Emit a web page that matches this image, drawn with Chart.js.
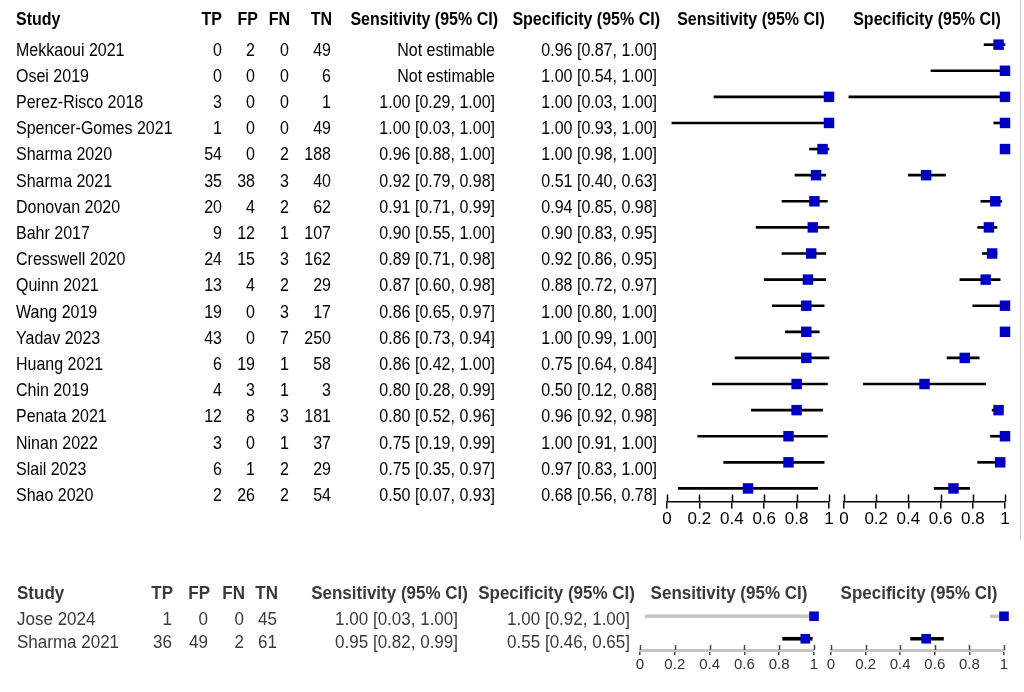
<!DOCTYPE html>
<html>
<head>
<meta charset="utf-8">
<script src="https://cdn.jsdelivr.net/npm/chart.js@4.4.1/dist/chart.umd.min.js"></script>
<style>
  html, body { margin: 0; padding: 0; background: #fff; }
  #page { position: relative; width: 1024px; height: 692px; overflow: hidden;
          font-family: 'Liberation Sans', Arial, sans-serif; }
  canvas { position: absolute; left: 0; top: 0; }
  .cell { position: absolute; white-space: nowrap; }
  .top { font-size: 16px; color: #000; }
  .bot { font-size: 17px; color: #3a3a3a; }
  .hd { font-weight: bold; }
  #edge { position: absolute; left: 1020px; top: 0; width: 1px; height: 540px; background: #c8c8c8; }
</style>
</head>
<body>
<div id="page">
  <div id="edge"></div>
  <canvas id="sensTop" width="1024" height="692"></canvas>
  <canvas id="specTop" width="1024" height="692"></canvas>
  <canvas id="sensBot" width="1024" height="692"></canvas>
  <canvas id="specBot" width="1024" height="692"></canvas>
</div>
<script>
// top table
const studies = ['Mekkaoui 2021', 'Osei 2019', 'Perez-Risco 2018', 'Spencer-Gomes 2021', 'Sharma 2020',
  'Sharma 2021', 'Donovan 2020', 'Bahr 2017', 'Cresswell 2020', 'Quinn 2021', 'Wang 2019', 'Yadav 2023',
  'Huang 2021', 'Chin 2019', 'Penata 2021', 'Ninan 2022', 'Slail 2023', 'Shao 2020'];
const tp = [0, 0, 3, 1, 54, 35, 20, 9, 24, 13, 19, 43, 6, 4, 12, 3, 6, 2];
const fp = [2, 0, 0, 0, 0, 38, 4, 12, 15, 4, 0, 0, 19, 3, 8, 0, 1, 26];
const fn = [0, 0, 0, 0, 2, 3, 2, 1, 3, 2, 3, 7, 1, 1, 3, 1, 2, 2];
const tn = [49, 6, 1, 49, 188, 40, 62, 107, 162, 29, 17, 250, 58, 3, 181, 37, 29, 54];
const sens   = [null, null, 1.00, 1.00, 0.96, 0.92, 0.91, 0.90, 0.89, 0.87, 0.86, 0.86, 0.86, 0.80, 0.80, 0.75, 0.75, 0.50];
const sensLo = [null, null, 0.29, 0.03, 0.88, 0.79, 0.71, 0.55, 0.71, 0.60, 0.65, 0.73, 0.42, 0.28, 0.52, 0.19, 0.35, 0.07];
const sensHi = [null, null, 1.00, 1.00, 1.00, 0.98, 0.99, 1.00, 0.98, 0.98, 0.97, 0.94, 1.00, 0.99, 0.96, 0.99, 0.97, 0.93];
const spec   = [0.96, 1.00, 1.00, 1.00, 1.00, 0.51, 0.94, 0.90, 0.92, 0.88, 1.00, 1.00, 0.75, 0.50, 0.96, 1.00, 0.97, 0.68];
const specLo = [0.87, 0.54, 0.03, 0.93, 0.98, 0.40, 0.85, 0.83, 0.86, 0.72, 0.80, 0.99, 0.64, 0.12, 0.92, 0.91, 0.83, 0.56];
const specHi = [1.00, 1.00, 1.00, 1.00, 1.00, 0.63, 0.98, 0.95, 0.95, 0.97, 1.00, 1.00, 0.84, 0.88, 0.98, 1.00, 1.00, 0.78];

// bottom table
const studies2 = ['Jose 2024', 'Sharma 2021'];
const tp2 = [1, 36];
const fp2 = [0, 49];
const fn2 = [0, 2];
const tn2 = [45, 61];
const sens2   = [1.00, 0.95];
const sensLo2 = [0.03, 0.82];
const sensHi2 = [1.00, 0.99];
const spec2   = [1.00, 0.55];
const specLo2 = [0.92, 0.46];
const specHi2 = [1.00, 0.65];

const headers = ['Study', 'TP', 'FP', 'FN', 'TN', 'Sensitivity (95% CI)', 'Specificity (95% CI)'];
const tickValues = [0, 0.2, 0.4, 0.6, 0.8, 1];
const tickLabels = ['0', '0.2', '0.4', '0.6', '0.8', '1'];

const BLUE = '#0000c4';
const page = document.getElementById('page');

function ci(v, lo, hi) {
  if (v == null) return 'Not estimable';
  return v.toFixed(2) + ' [' + lo.toFixed(2) + ', ' + hi.toFixed(2) + ']';
}

function addText(text, x, cy, align, cls, lh, sy) {
  const d = document.createElement('div');
  d.className = 'cell ' + cls;
  d.textContent = text;
  d.style.top = (cy - lh / 2) + 'px';
  d.style.height = lh + 'px';
  d.style.lineHeight = lh + 'px';
  if (align === 'right') {
    d.style.right = (1024 - x) + 'px';
    d.style.transformOrigin = 'right center';
    d.style.transform = 'scaleY(' + sy + ')';
  } else if (align === 'center') {
    d.style.left = x + 'px';
    d.style.transform = 'translateX(-50%) scaleY(' + sy + ')';
  } else {
    d.style.left = x + 'px';
    d.style.transformOrigin = 'left center';
    d.style.transform = 'scaleY(' + sy + ')';
  }
  page.appendChild(d);
}

function drawTable(t, L) {
  const hx = L.headX, cx = L.colX;
  addText(headers[0], hx[0], L.headY, 'left', L.cls + ' hd', L.lh, L.sy);
  for (let c = 1; c <= 6; c++) addText(headers[c], hx[c], L.headY, 'right', L.cls + ' hd', L.lh, L.sy);
  addText(headers[5], L.plotHead[0], L.headY, 'center', L.cls + ' hd', L.lh, L.sy);
  addText(headers[6], L.plotHead[1], L.headY, 'center', L.cls + ' hd', L.lh, L.sy);
  t.studies.forEach((s, i) => {
    const y = L.rowY + i * L.rowH;
    addText(s, cx[0], y, 'left', L.cls, L.lh, L.sy);
    addText(String(t.tp[i]), cx[1], y, 'right', L.cls, L.lh, L.sy);
    addText(String(t.fp[i]), cx[2], y, 'right', L.cls, L.lh, L.sy);
    addText(String(t.fn[i]), cx[3], y, 'right', L.cls, L.lh, L.sy);
    addText(String(t.tn[i]), cx[4], y, 'right', L.cls, L.lh, L.sy);
    addText(ci(t.sens[i], t.sensLo[i], t.sensHi[i]), cx[5], y, 'right', L.cls, L.lh, L.sy);
    addText(ci(t.spec[i], t.specLo[i], t.specHi[i]), cx[6], y, 'right', L.cls, L.lh, L.sy);
  });
}

drawTable({ studies, tp, fp, fn, tn, sens, sensLo, sensHi, spec, specLo, specHi }, {
  cls: 'top', lh: 26, sy: 1.2, headY: 19, rowY: 49.5, rowH: 26.2,
  headX: [16, 222, 258, 290, 332, 498, 660], colX: [16, 222, 255, 289, 331, 495, 657],
  plotHead: [751, 927]
});
drawTable({ studies: studies2, tp: tp2, fp: fp2, fn: fn2, tn: tn2, sens: sens2, sensLo: sensLo2, sensHi: sensHi2,
  spec: spec2, specLo: specLo2, specHi: specHi2 }, {
  cls: 'bot', lh: 22, sy: 1.05, headY: 594, rowY: 620, rowH: 22.5,
  headX: [17, 173, 210, 245, 278, 468, 635], colX: [17, 172, 208, 244, 277, 458, 630],
  plotHead: [729, 919]
});

// upper half of the tick marks, crossing the axis line
const tickUp = {
  id: 'tickUp',
  beforeDatasetsDraw(chart) {
    const s = chart.scales.x, ctx = chart.ctx, g = s.options.grid;
    ctx.save();
    ctx.strokeStyle = g.color;
    ctx.lineWidth = g.lineWidth;
    s.ticks.forEach((t, i) => {
      const x = Math.round(s.getPixelForTick(i)) + 0.5;
      ctx.beginPath();
      ctx.moveTo(x, s.top);
      ctx.lineTo(x, s.top - g.tickLength);
      ctx.stroke();
    });
    ctx.restore();
  }
};

function forest(id, labels, est, lo, hi, box, look) {
  new Chart(document.getElementById(id), {
    type: 'bar',
    data: {
      labels: labels,
      datasets: [
        {
          type: 'bar',
          data: labels.map((_, i) => lo[i] == null ? null : [lo[i], hi[i]]),
          backgroundColor: look.ciColors,
          barThickness: look.ciWidth,
          grouped: false,
          clip: false,
          order: 2
        },
        {
          type: 'line',
          data: est,
          showLine: false,
          pointStyle: 'rect',
          pointRadius: look.radius,
          pointBackgroundColor: BLUE,
          pointBorderColor: BLUE,
          pointBorderWidth: 0,
          clip: false,
          order: 1
        }
      ]
    },
    options: {
      indexAxis: 'y',
      responsive: false,
      animation: false,
      events: [],
      layout: { padding: { left: box.left, right: 1024 - box.right, top: box.top, bottom: 692 - box.bottom - box.axisH } },
      plugins: { legend: { display: false }, tooltip: { enabled: false } },
      scales: {
        y: { type: 'category', display: false, offset: true },
        x: {
          type: 'linear', min: 0, max: 1,
          afterBuildTicks: s => { s.ticks = tickValues.map(v => ({ value: v })); },
          afterFit: s => { s.height = box.axisH; },
          grid: { drawOnChartArea: false, drawTicks: true, tickLength: look.tickLen, color: look.tickColor, lineWidth: 1.5 },
          border: { display: true, color: look.axisColor, width: look.axisWidth },
          ticks: {
            padding: look.tickPad,
            color: look.textColor,
            font: { family: "'Liberation Sans', Arial, sans-serif", size: look.fontSize },
            maxRotation: 0,
            callback: (v, i) => tickLabels[i]
          }
        }
      }
    },
    plugins: [tickUp]
  });
}

const topLook = { ciColors: '#000', ciWidth: 2, radius: 7.4, tickLen: 7, tickColor: '#000', axisColor: '#000',
  axisWidth: 1.5, tickPad: 1, textColor: '#000', fontSize: 17 };
const botLook = { ciColors: ['#c4c4c4', '#000'], ciWidth: 3, radius: 6.8, tickLen: 5, tickColor: '#444', axisColor: '#c4c4c4',
  axisWidth: 3, tickPad: 1, textColor: '#333', fontSize: 15 };

forest('sensTop', studies, sens, sensLo, sensHi, { left: 667, right: 829, top: 31.6, bottom: 501.5, axisH: 30 }, topLook);
forest('specTop', studies, spec, specLo, specHi, { left: 844, right: 1005, top: 31.6, bottom: 501.5, axisH: 30 }, topLook);
forest('sensBot', studies2, sens2, sensLo2, sensHi2, { left: 640, right: 814, top: 605, bottom: 650, axisH: 24 }, botLook);
forest('specBot', studies2, spec2, specLo2, specHi2, { left: 831, right: 1004, top: 605, bottom: 650, axisH: 24 }, botLook);
</script>
</body>
</html>
